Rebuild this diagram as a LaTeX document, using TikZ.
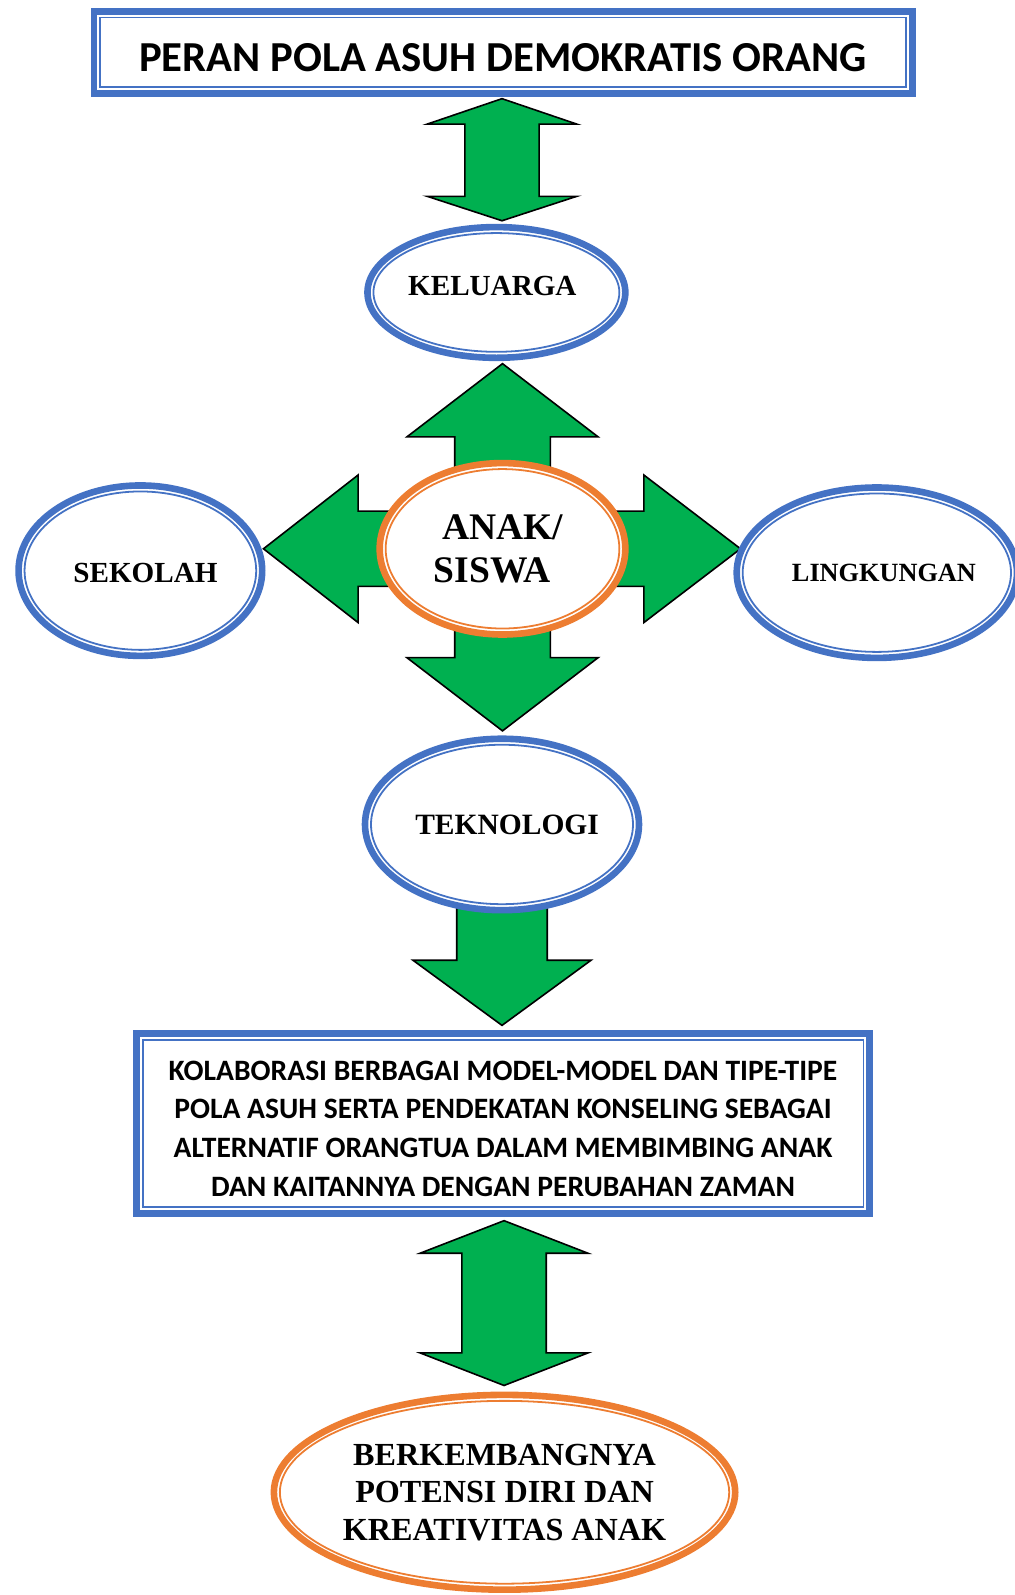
\documentclass[tikz,border=0pt]{standalone}
\usepackage{fontspec}
\usepackage{tikz}
\usetikzlibrary{shapes.geometric,backgrounds,calc}
\newfontfamily\calib{Carlito}
\newfontfamily\serifrm{Liberation Serif}
\definecolor{oblue}{HTML}{4472C4}
\definecolor{oorange}{HTML}{ED7D31}
\definecolor{agreen}{HTML}{00B050}

\begin{document}
\begin{tikzpicture}[x=0.2mm, y=-0.2mm,
  headbox/.style={draw=oblue, line width=3.7pt, fill=white, inner sep=0pt, align=center},
  oval/.style={ellipse, draw=#1, line width=3.7pt, fill=white, inner sep=0pt, align=center},
  ring/.style={draw=#1, line width=1pt},
  blockarrow/.style={fill=agreen, draw=black, line width=0.9pt, line join=miter}
]
  \useasboundingbox (0,0) rectangle (997,1568);

  \node[headbox, minimum width=160.9mm, minimum height=16.1mm, font=\calib\bfseries\fontsize{23.9}{28}\selectfont] (judul) at (494.5,51.5) {\rule{0pt}{21.4pt}PERAN POLA ASUH DEMOKRATIS ORANG};
  \node[oval=oblue, minimum width=50.7mm, minimum height=25.7mm, font=\serifrm\bfseries\fontsize{16.3}{20}\selectfont] (kel) at (488,287.5) {\rule[-7pt]{0pt}{7pt}KELUARGA\kern1.6mm};
  \node[oval=oblue, minimum width=47.9mm, minimum height=33.5mm, font=\serifrm\bfseries\fontsize{16.3}{20}\selectfont] (sek) at (138,561) {\rule{0pt}{13pt}\kern2mm SEKOLAH};
  \node[oval=oblue, minimum width=52.7mm, minimum height=33.5mm, font=\serifrm\bfseries\fontsize{14.7}{18}\selectfont] (ling) at (862,563) {\kern2.8mm LINGKUNGAN};
  \node[oval=oorange, minimum width=48.3mm, minimum height=33.7mm, font=\serifrm\bfseries\fontsize{21}{24}\selectfont] (anak) at (494,539.5) {ANAK/\\SISWA\kern4mm};
  \node[oval=oblue, minimum width=52.9mm, minimum height=33.7mm, font=\serifrm\bfseries\fontsize{16.5}{20}\selectfont] (tek) at (493.5,810.5) {\kern2mm TEKNOLOGI};
  \node[headbox, minimum width=144.1mm, minimum height=35.3mm, font=\calib\bfseries\fontsize{16.55}{21.6}\selectfont] (kolab) at (494.5,1104.5) {\rule{0pt}{16.6pt}KOLABORASI BERBAGAI MODEL-MODEL DAN TIPE-TIPE\\POLA ASUH SERTA PENDEKATAN KONSELING SEBAGAI\\ALTERNATIF ORANGTUA DALAM MEMBIMBING ANAK\\DAN KAITANNYA DENGAN PERUBAHAN ZAMAN};
  \node[oval=oorange, minimum width=90.7mm, minimum height=38.3mm, font=\serifrm\bfseries\fontsize{18}{21}\selectfont] (hasil) at (496,1467) {BERKEMBANGNYA\\POTENSI DIRI DAN\\KREATIVITAS ANAK};

  \foreach \nd in {judul,kolab}
    \draw[ring=oblue] ([shift={(5.25pt,-5.25pt)}]\nd.north west) rectangle ([shift={(-5.25pt,5.25pt)}]\nd.south east);
  \foreach \nd/\c in {kel/oblue,sek/oblue,ling/oblue,tek/oblue,anak/oorange,hasil/oorange}
    \draw[ring=\c] let \p1=($(\nd.east)-(\nd.center)$), \p2=($(\nd.north)-(\nd.center)$) in (\nd.center) ellipse [x radius=\x1-5.2pt, y radius=\y2-5.2pt];

  \begin{scope}[on background layer]
    \draw[blockarrow] ($(judul.south)+(-1,2)$) -- ++(73.5,25) -- ++(-37,0) -- ++(0,71) -- ++(37,0) -- ++(-73.5,24) -- ++(-73.5,-24) -- ++(37,0) -- ++(0,-71) -- ++(-37,0) -- cycle;
    \draw[blockarrow] ($(tek.south)+(-44.5,-10)$) -- ++(89,0) -- ++(0,56) -- ++(43,0) -- ++(-87.5,64) -- ++(-87.5,-64) -- ++(43,0) -- cycle;
    \draw[blockarrow] ($(kolab.south)+(1,4)$) -- ++(82.5,32) -- ++(-41,0) -- ++(0,98) -- ++(41,0) -- ++(-82.5,32) -- ++(-82.5,-32) -- ++(41,0) -- ++(0,-98) -- ++(-41,0) -- cycle;
  \end{scope}
  \begin{scope}[on background layer, shift={(anak.center)}]
    \draw[blockarrow] (0,-182) -- (94,-110) -- (47,-110) -- (47,-37) -- (139,-37) -- (139,-72.5) -- (234,0) -- (139,72.5) -- (139,37) -- (47,37) -- (47,107) -- (94,107) -- (0,179) -- (-94,107) -- (-47,107) -- (-47,37) -- (-142,37) -- (-142,72.5) -- (-235,0) -- (-142,-72.5) -- (-142,-37) -- (-47,-37) -- (-47,-110) -- (-94,-110) -- cycle;
  \end{scope}
\end{tikzpicture}
\end{document}
